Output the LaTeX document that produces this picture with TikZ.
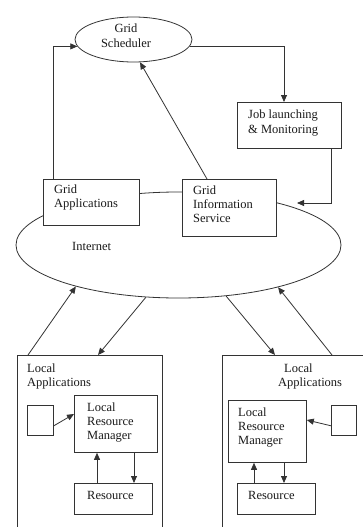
\documentclass[tikz,border=0pt]{standalone}
\usepackage{fontspec}
\setmainfont{Liberation Serif}
\usetikzlibrary{arrows.meta,calc,shapes.geometric}
\begin{document}
\begin{tikzpicture}[x=1pt,y=-1pt,
 line/.style={draw=black!80, line width=0.8pt},
 arr/.style={line, -{Triangle[length=7pt,width=6pt]}},
 box/.style={line, fill=white, rectangle, inner sep=0pt, anchor=north west},
 oval/.style={line, fill=white, ellipse, inner sep=0pt},
 lbl/.style={font=\fontsize{12.5}{14}\selectfont, inner sep=0pt, anchor=base west, align=left, text=black!90},
]
\useasboundingbox (0,0) rectangle (363,527);
\clip (0,0) rectangle (363,527);
\fill[white] (0,0) rectangle (363,527);

% top part
\node[oval, minimum width=117pt, minimum height=45pt] (sched) at (133.5,39.5) {};
\node[box, minimum width=104pt, minimum height=46pt] (job) at (237,102) {};
\node[oval, minimum width=325pt, minimum height=106pt] (inet) at (178.5,245) {};
\node[box, minimum width=96pt, minimum height=46pt] (GA) at (43,179) {};
\node[box, minimum width=94pt, minimum height=57pt] (GIS) at (182,179) {};

\node[lbl, anchor=base, align=center, font=\fontsize{12.5}{15}\selectfont] (tsched) at (126,48) {Grid\\Scheduler};
\node[lbl, font=\fontsize{12.5}{15}\selectfont] (tjob) at (248,133) {Job launching\\\& Monitoring};
\node[lbl] (tGA) at (54,207.5) {Grid\\Applications};
\node[lbl] (tGIS) at (193,222.5) {Grid\\Information\\Service};
\node[lbl] (tinet) at (72,250) {Internet};

\draw[arr] ($(GA.north west)+(10,0)$) |- (sched.187);
\draw[arr] (sched.353) -| ($(job.north west)+(47,0)$);
\draw[arr] ($(GIS.north west)+(25,0)$) -- (sched.286);
\coordinate (jobend) at (297,203);
\draw[arr] ($(job.south east)+(-10,0)$) |- (jobend);

% local sites
\node[box, fill=none, minimum width=145pt, minimum height=200pt] (LA1) at (17,355) {};
\node[box, fill=none, minimum width=180pt, minimum height=200pt] (LA2) at (222,355) {};

\draw[arr] ($(LA1.north west)+(11,0)$) -- (inet.202);
\draw[arr] (inet.238) -- ($(LA1.north west)+(81,0)$);
\draw[arr] (inet.313) -- ($(LA2.north west)+(53,0)$);
\draw[arr] ($(LA2.north west)+(110,0)$) -- (inet.337);

% left site
\node[lbl] (tLA1) at (27,386) {Local\\Applications};
\node[box, minimum width=26pt, minimum height=30pt] (SB1) at (27,405) {};
\node[box, minimum width=83pt, minimum height=57pt] (LRM1) at (74,395) {};
\node[box, minimum width=78pt, minimum height=31pt] (RES1) at (74,483) {};
\node[lbl] (tLRM1) at (87,439.5) {Local\\Resource\\Manager};
\node[lbl] (tRES1) at (87,499) {Resource};
\draw[arr] ($(SB1.south east)+(0,-10)$) -- ($(LRM1.north west)+(0,19)$);
\draw[arr] ($(RES1.north west)+(23,0)$) -- ($(LRM1.south west)+(23,0)$);
\draw[arr] ($(LRM1.south west)+(60,0)$) -- ($(RES1.north west)+(60,0)$);

% right site
\node[lbl] (tLA2) at (278,386) {\hspace{6pt}Local\\Applications};
\node[box, minimum width=78pt, minimum height=62pt] (LRM2) at (228,400) {};
\node[box, minimum width=25pt, minimum height=30pt] (SB2) at (331,405) {};
\node[box, minimum width=78pt, minimum height=31pt] (RES2) at (237,483) {};
\node[lbl] (tLRM2) at (238,444.5) {Local\\Resource\\Manager};
\node[lbl] (tRES2) at (248,499) {Resource};
\draw[arr] ($(SB2.south west)+(0,-10)$) -- ($(LRM2.north east)+(0,20)$);
\draw[arr] ($(LRM2.south west)+(26,21)$) -- ($(LRM2.south west)+(26,0)$);
\draw[arr] ($(LRM2.south west)+(56,0)$) -- ($(RES2.north west)+(47,0)$);
\end{tikzpicture}
\end{document}
